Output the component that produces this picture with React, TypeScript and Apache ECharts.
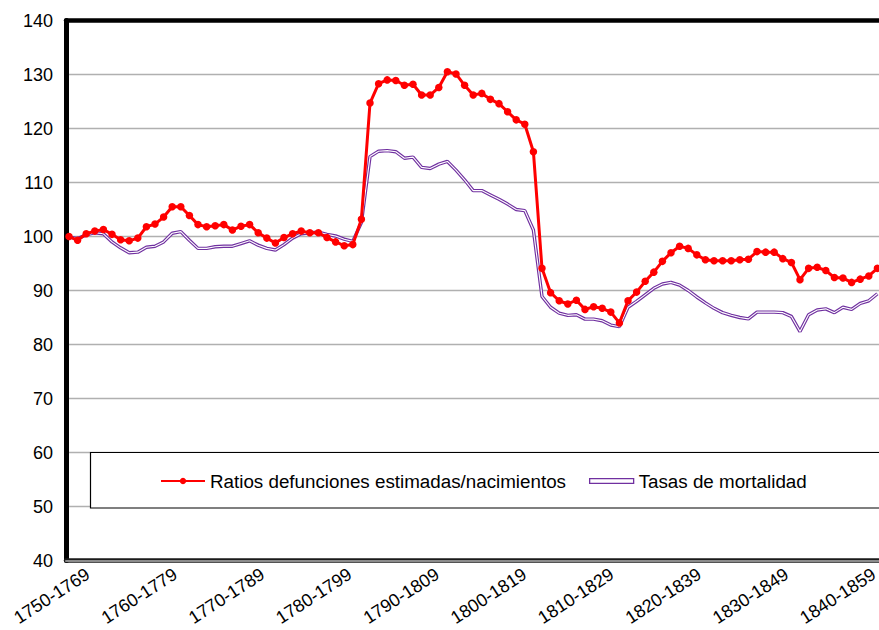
import React, { useEffect, useRef } from "react";
import * as echarts from "echarts";

const firstStartYear = 1750;
const windowCount = 95;
const categories: string[] = Array.from({ length: windowCount }, (_, i) => `${firstStartYear + i}-${firstStartYear + i + 19}`);

const tickLabels = [
  "1750-1769", "1760-1779", "1770-1789", "1780-1799", "1790-1809",
  "1800-1819", "1810-1829", "1820-1839", "1830-1849", "1840-1859",
];

const ratiosName = "Ratios defunciones estimadas/nacimientos";
const tasasName = "Tasas de mortalidad";

const ratios = [
  100.0, 99.3, 100.5, 101.0, 101.3, 100.4, 99.4, 99.2, 99.7, 101.8,
  102.3, 103.6, 105.5, 105.5, 103.9, 102.2, 101.8, 102.0, 102.2, 101.2,
  101.9, 102.2, 100.7, 99.7, 98.8, 99.8, 100.5, 101.0, 100.7, 100.7,
  99.8, 99.0, 98.3, 98.5, 103.2, 124.7, 128.3, 129.0, 128.9, 128.0,
  128.2, 126.2, 126.2, 127.6, 130.5, 130.1, 128.0, 126.2, 126.5, 125.4,
  124.6, 123.1, 121.6, 120.8, 115.7, 94.1, 89.6, 88.1, 87.5, 88.2,
  86.5, 87.0, 86.7, 86.0, 84.0, 88.1, 89.7, 91.7, 93.4, 95.4,
  97.0, 98.2, 97.8, 96.6, 95.7, 95.5, 95.5, 95.5, 95.7, 95.8,
  97.2, 97.1, 97.1, 95.9, 95.2, 92.0, 94.1, 94.3, 93.7, 92.4,
  92.3, 91.5, 92.1, 92.7, 94.1,
];

const tasas = [
  99.9, 99.6, 100.3, 100.7, 100.5, 99.0, 97.9, 97.0, 97.1, 98.0,
  98.2, 99.0, 100.6, 100.9, 99.3, 97.8, 97.8, 98.1, 98.2, 98.2,
  98.7, 99.2, 98.4, 97.8, 97.5, 98.5, 99.7, 100.5, 100.7, 100.8,
  100.4, 100.1, 99.5, 99.1, 102.6, 114.8, 115.8, 115.9, 115.7, 114.5,
  114.7, 112.8, 112.6, 113.4, 113.9, 112.3, 110.5, 108.5, 108.5, 107.7,
  106.9, 106.0, 105.0, 104.8, 101.2, 88.9, 86.9, 85.8, 85.4, 85.5,
  84.7, 84.7, 84.4, 83.6, 83.3, 86.9, 88.0, 89.2, 90.4, 91.2,
  91.5, 91.0, 90.0, 88.8, 87.7, 86.7, 85.9, 85.4, 85.0, 84.75,
  86.0, 86.0, 86.0, 85.9, 85.2, 82.4, 85.5, 86.4, 86.6, 85.9,
  86.9, 86.5, 87.6, 88.1, 89.4,
];

const FONT = "'Liberation Sans', Arial, Helvetica, sans-serif";

export default function App() {
  const ref = useRef<HTMLDivElement>(null);
  useEffect(() => {
    if (!ref.current) return;
    const chart = echarts.init(ref.current, null, { renderer: "svg" });
    const gridTop = 20.5;
    const gridBottom = 69.5;
    const option: any = {
      animation: false,
      backgroundColor: "#ffffff",
      textStyle: { fontFamily: FONT },
      grid: [
        { left: 69, right: 1.6, top: gridTop, bottom: gridBottom, outerBoundsMode: "none", containLabel: false },
        { left: 88, right: 5, top: gridTop, bottom: gridBottom, outerBoundsMode: "none", containLabel: false },
        { left: 66, right: -6, top: gridTop, bottom: gridBottom, outerBoundsMode: "none", containLabel: false },
      ],
      xAxis: [
        {
          gridIndex: 0, type: "category", data: categories, boundaryGap: false,
          axisLine: { show: false }, axisTick: { show: false }, axisLabel: { show: false }, splitLine: { show: false },
        },
        {
          gridIndex: 1, type: "category", data: tickLabels, boundaryGap: false, position: "bottom",
          axisLine: { show: false }, axisTick: { show: false }, splitLine: { show: false },
          axisLabel: { interval: 0, rotate: 33, margin: 12, fontSize: 18, color: "#000", fontFamily: FONT },
        },
        {
          gridIndex: 2, type: "value", min: 0, max: 1, position: "top",
          axisLine: { show: true, onZero: false, lineStyle: { color: "#000", width: 4.5 } },
          axisTick: { show: false }, axisLabel: { show: false }, splitLine: { show: false },
        },
        {
          gridIndex: 2, type: "value", min: 0, max: 1, position: "bottom",
          axisLine: { show: true, onZero: false, lineStyle: { color: "#1a1a1a", width: 4.5 } },
          axisTick: { show: false }, axisLabel: { show: false }, splitLine: { show: false },
        },
        {
          gridIndex: 2, type: "value", min: 0, max: 1, position: "bottom",
          axisLine: { show: true, onZero: false, lineStyle: { color: "#8c8c8c", width: 2 } },
          axisTick: { show: false }, axisLabel: { show: false }, splitLine: { show: false },
        },
      ],
      yAxis: [
        { gridIndex: 0, type: "value", min: 40, max: 140, interval: 10, show: false },
        { gridIndex: 1, type: "value", min: 0, max: 1, show: false },
        {
          gridIndex: 2, type: "value", min: 40, max: 140, interval: 10,
          axisLine: { show: true, onZero: false, lineStyle: { color: "#000", width: 5 } },
          axisTick: { show: false },
          axisLabel: { margin: 13, fontSize: 18, color: "#000", fontFamily: FONT },
          splitLine: { show: true, lineStyle: { color: "#b0b0b0", width: 1.4 } },
        },
      ],
      legend: {
        left: 160,
        top: 471.5,
        padding: 0,
        itemWidth: 44,
        itemHeight: 8,
        itemGap: 23,
        textStyle: { fontSize: 18.8, color: "#000", fontFamily: FONT },
        data: [
          { name: ratiosName },
          {
            name: tasasName,
            icon: "path://M0,0L45,0L45,5L0,5Z",
            itemStyle: { color: "#ffffff", borderColor: "#7030A0", borderWidth: 1.3 },
          },
        ],
      },
      graphic: [
        {
          type: "rect",
          z: 3,
          shape: { x: 90.5, y: 452.5, width: 850, height: 55.5 },
          style: { fill: "#ffffff", stroke: "#000000", lineWidth: 1.2 },
          silent: true,
        },
      ],
      series: [
        {
          name: tasasName, type: "line", xAxisIndex: 0, yAxisIndex: 0, data: tasas,
          symbol: "none", showSymbol: false, z: 2,
          lineStyle: { color: "#7030A0", width: 3.4 }, itemStyle: { color: "#7030A0" },
        },
        {
          name: tasasName, type: "line", xAxisIndex: 0, yAxisIndex: 0, data: tasas,
          symbol: "none", showSymbol: false, z: 3,
          lineStyle: { color: "#ffffff", width: 1.1 }, itemStyle: { color: "#7030A0" },
        },
        {
          name: ratiosName, type: "line", xAxisIndex: 0, yAxisIndex: 0, data: ratios,
          symbol: "circle", symbolSize: 7.5, showSymbol: true, showAllSymbol: true, z: 4,
          lineStyle: { color: "#ff0000", width: 3 }, itemStyle: { color: "#ff0000" },
        },
      ],
    };
    chart.setOption(option);
    return () => chart.dispose();
  }, []);
  return (
    <div
      ref={ref}
      style={{ position: "absolute", left: 0, top: 0, width: 879, height: 630, background: "#fff" }}
    />
  );
}
